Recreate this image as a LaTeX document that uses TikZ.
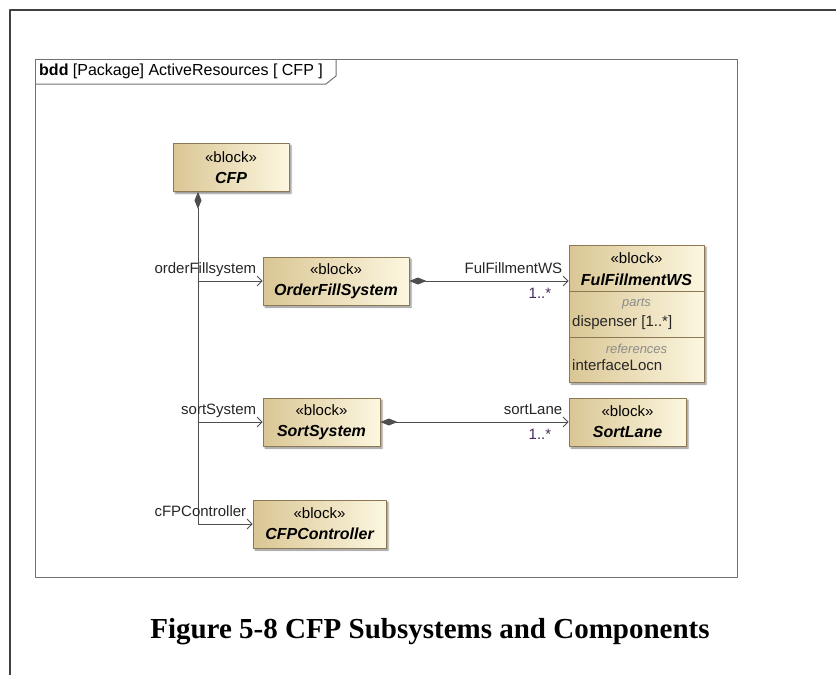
\documentclass[tikz,border=0pt]{standalone}
\usepackage{fontspec}
\setmainfont{Liberation Sans}
\newfontfamily\capfont{Liberation Serif}
\usetikzlibrary{arrows.meta,shadows.blur}
\definecolor{blocktan}{RGB}{218,198,148}
\definecolor{blockpale}{RGB}{252,247,224}
\definecolor{blockedge}{RGB}{140,120,82}
\definecolor{wire}{RGB}{78,78,78}
\definecolor{multcol}{RGB}{72,42,92}
\definecolor{framecol}{RGB}{112,112,112}
\newcommand{\blockname}[1]{{\fontsize{16}{21}\selectfont\bfseries\itshape #1}}
\begin{document}
\begin{tikzpicture}[x=1pt, y=-1pt, line join=round, font=\fontsize{15}{21}\selectfont,
	block/.style={draw=blockedge, line width=0.8pt, left color=blocktan, right color=blockpale,
		minimum height=48pt, inner sep=0pt, align=center,
		blur shadow={shadow xshift=2pt, shadow yshift=-2pt, shadow blur radius=1.5pt, shadow opacity=45}},
	wireline/.style={draw=wire, line width=0.8pt},
	comp/.style={wireline, {Diamond[length=17pt,width=7pt,fill=wire]}-{Straight Barb[length=5pt,width=10pt]}},
	branch/.style={wireline, -{Straight Barb[length=5pt,width=10pt]}},
	rolename/.style={anchor=base east, inner sep=0pt, xshift=-6pt, yshift=8pt, text=black!85},
	multname/.style={anchor=base east, inner sep=0pt, xshift=-17pt, yshift=-17pt, text=multcol},
	comptitle/.style={font=\fontsize{13}{15}\selectfont\itshape, text=black!45, inner sep=0pt},
	compitem/.style={anchor=base west, inner sep=0pt, text=black!85}]
	\useasboundingbox (0,0) rectangle (836,675);
	\draw[black!75, line width=1.2pt] (836,10) -- (10,10) -- (10,675);
	\draw[framecol, line width=1pt] (35,59) rectangle (737,577);
	\draw[framecol, line width=1pt] (35,84) -- (326,84) -- (336,76) -- (336,59);
	\node[anchor=base west, inner sep=0pt, font=\fontsize{16}{18}\selectfont] (title) at (39,75)
		{\textbf{bdd} [Package] ActiveResources [ CFP ]};
	\foreach \n/\x/\y/\w/\t in {cfp/231/167.5/116/CFP, ofs/336/281/146/OrderFillSystem,
		ss/321.5/422/117/SortSystem, sl/627.5/422/117/SortLane, cfpc/319.5/524/133/CFPController}
		\node[block, minimum width=\w pt] (\n) at (\x,\y) {«block»\\\blockname{\t}};
	\node[block, minimum width=135pt, minimum height=137pt] (fws) at (636.5,313.5) {};
	\node[inner sep=0pt] (fwsster) at (636.5,258) {«block»};
	\node[inner sep=0pt] (fwsname) at (636.5,280) {\blockname{FulFillmentWS}};
	\draw[blockedge, line width=0.8pt] ([yshift=-47pt]fws.north west) -- ([yshift=-47pt]fws.north east);
	\draw[blockedge, line width=0.8pt] ([yshift=-93pt]fws.north west) -- ([yshift=-93pt]fws.north east);
	\node[comptitle] (parts) at (636.5,304) {parts};
	\node[compitem] (disp) at (572,326) {dispenser [1..*]};
	\node[comptitle] (refs) at (636.5,349) {references};
	\node[compitem] (locn) at (572,370) {interfaceLocn};
	\coordinate (trunk) at (198,0);
	\draw[comp] (cfp.south -| trunk) -- (trunk |- cfpc.west) -- (cfpc.west) node[rolename]{cFPController};
	\foreach \n/\t in {ofs/orderFillsystem, ss/sortSystem}
		\draw[branch] (trunk |- \n.west) -- (\n.west) node[rolename]{\t};
	\draw[comp] (ofs.east) -- (ofs.east -| fws.west) node[rolename]{FulFillmentWS} node[multname]{1..*};
	\draw[comp] (ss.east) -- (sl.west) node[rolename]{sortLane} node[multname]{1..*};
	\node[font=\capfont\bfseries\fontsize{29}{34}\selectfont] (caption) at (430,632)
		{Figure 5-8 CFP Subsystems and Components};
\end{tikzpicture}
\end{document}
